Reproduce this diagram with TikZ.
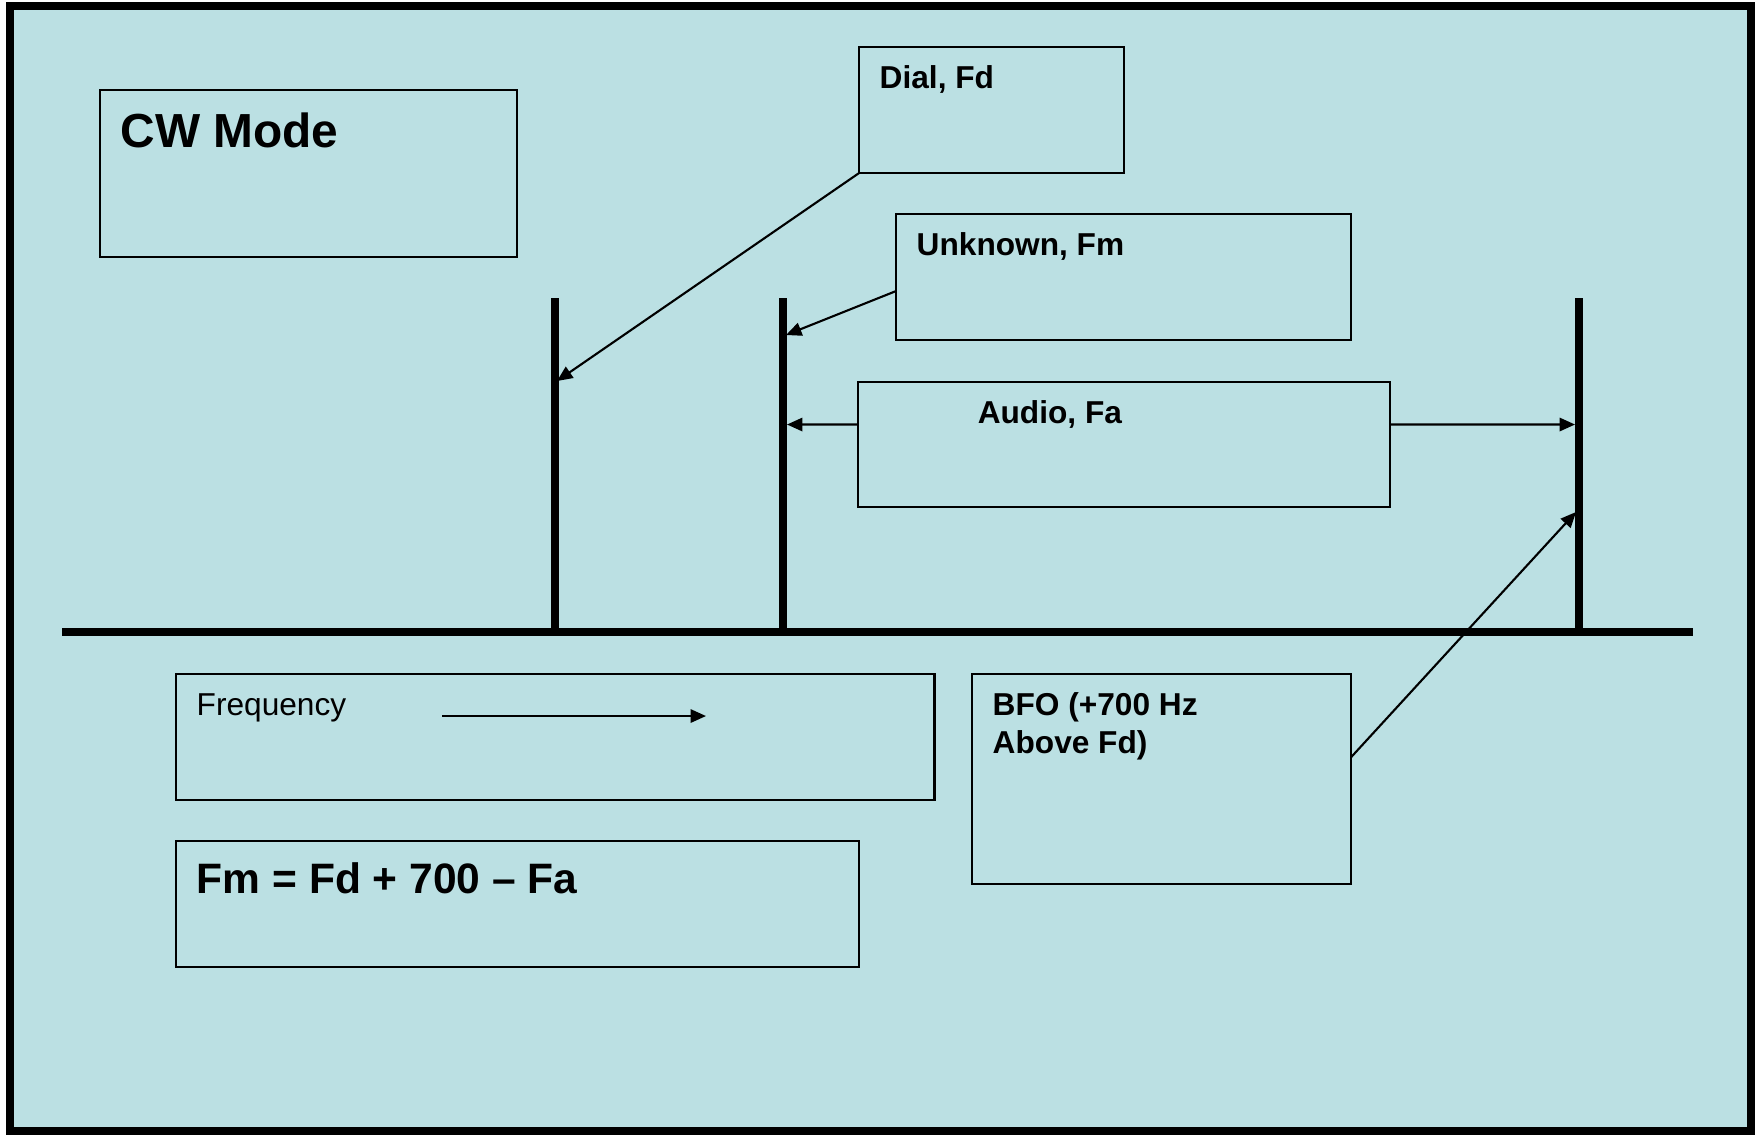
\documentclass[tikz,border=0pt]{standalone}
\usepackage{fontspec}
\setmainfont{Liberation Sans}
\usetikzlibrary{arrows.meta,positioning,calc}
\definecolor{panel}{HTML}{BBE0E3}
\tikzset{
box/.style={draw,line width=0.6pt,anchor=north west,inner sep=0pt,outer sep=0pt},
tag/.style={anchor=base west,inner sep=0pt,align=left,font=\bfseries\fontsize{9}{10.8}\selectfont},
bar/.style={line width=2.3pt},
pointer/.style={-{Triangle[length=4.4pt,width=3.8pt]},line width=0.6pt}
}
\begin{document}
\begin{tikzpicture}[x=0.01cm,y=-0.01cm]
\useasboundingbox(0,0)rectangle(1758,1135);
\fill[white](0,0)rectangle(1758,1135);
\filldraw[fill=panel,line width=2.3pt](10,6)rectangle(1751,1131);
\node[box,minimum width=4.17cm,minimum height=1.67cm](cwmode)at(100,90){};
\node[tag,font=\bfseries\fontsize{13.6}{16}\selectfont](cwtag)at([xshift=0.2cm,yshift=-0.57cm]cwmode.north west){CW Mode};
\node[box,minimum width=2.65cm,minimum height=1.26cm](dial)at(859,47){};
\node[tag](dialtag)at([xshift=0.2cm,yshift=-0.41cm]dial.north west){Dial, Fd};
\node[box,minimum width=4.55cm,minimum height=1.26cm](unknown)at(896,214){};
\node[tag](unknowntag)at([xshift=0.2cm,yshift=-0.41cm]unknown.north west){Unknown, Fm};
\node[box,minimum width=5.32cm,minimum height=1.25cm](audio)at(858,382){};
\node[tag](audiotag)at([xshift=1.19cm,yshift=-0.41cm]audio.north west){Audio, Fa};
\node[box,minimum width=7.58cm,minimum height=1.26cm](freq)at(176,674){};
\node[tag,font=\fontsize{9}{10.8}\selectfont](freqtag)at([xshift=0.2cm,yshift=-0.41cm]freq.north west){Frequency};
\node[box,minimum width=3.79cm,minimum height=2.10cm](bfo)at(972,674){};
\node[tag](bfotag)at([xshift=0.2cm,yshift=-0.79cm]bfo.north west){BFO (+700 Hz\\Above Fd)};
\node[box,minimum width=6.83cm,minimum height=1.26cm](formula)at(176,841){};
\node[tag,font=\bfseries\fontsize{12.1}{14}\selectfont](formulatag)at([xshift=0.2cm,yshift=-0.52cm]formula.north west){Fm = Fd + 700 \textendash{} Fa};
\coordinate(axl)at(62,632);
\coordinate(axr)at(1693,632);
\draw[bar](axl)--(axr);
\foreach \name/\px in {fdbar/555,fmbar/783,fbbar/1579}{\coordinate(\name)at(\px,632);\draw[bar](\name)--++(0,-334);}
\coordinate(fdhit)at(557,381);
\coordinate(fmhit)at(786,335);
\coordinate(falo)at(787,424.5);
\coordinate(fahi)at(1575,424.5);
\coordinate(bfohit)at(1576,512);
\coordinate(freqfrom)at(442,716);
\coordinate(freqto)at(706,716);
\draw[pointer](dial.south west)--(fdhit);
\draw[pointer]([yshift=-0.14cm]unknown.west)--(fmhit);
\draw[pointer]([yshift=0.2cm]audio.west)--(falo);
\draw[pointer]([yshift=0.2cm]audio.east)--(fahi);
\draw[pointer]([yshift=0.22cm]bfo.east)--(bfohit);
\draw[pointer](freqfrom)--(freqto);
\end{tikzpicture}
\end{document}
